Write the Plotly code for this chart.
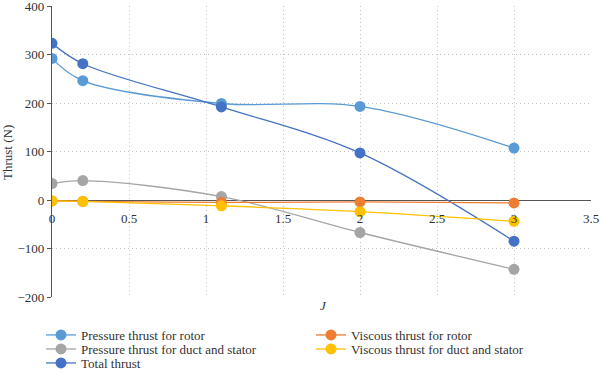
import plotly.graph_objects as go

J = [0, 0.2, 1.1, 2, 3]
pressure_rotor = [292, 246, 199, 193, 107]
pressure_duct = [34, 40, 7, -67, -143]
total_thrust = [323, 281, 192, 97, -85]
viscous_rotor = [-2, -3, -5, -4, -6]
viscous_duct = [-2, -3, -12, -24, -44]

x_ticks = [0, 0.5, 1, 1.5, 2, 2.5, 3, 3.5]
x_tick_labels = ["0", "0.5", "1", "1.5", "2", "2.5", "3", "3.5"]
y_ticks = [-200, -100, 0, 100, 200, 300, 400]
y_tick_labels = ["−200", "−100", "0", "100", "200", "300", "400"]

W, H = 600, 373
FONT = "Liberation Serif"
TXT = "#333333"
L, R, T, B = 52, 9, 6, 76

# (name, values, colour, legend id, legend text left px, legend row centre px)
series = [
    ("Pressure thrust for rotor", pressure_rotor, "#5B9BD5", "legend", 81, 335),
    ("Pressure thrust for duct and stator", pressure_duct, "#A5A5A5", "legend2", 81, 349),
    ("Total thrust", total_thrust, "#4472C4", "legend3", 81, 363),
    ("Viscous thrust for rotor", viscous_rotor, "#ED7D31", "legend4", 351, 335),
    ("Viscous thrust for duct and stator", viscous_duct, "#FFC000", "legend5", 351, 349),
]

fig = go.Figure()
legends = {}
for name, vals, col, lg, tx, ty in series:
    fig.add_trace(go.Scatter(
        x=J, y=vals, name=name, mode="lines+markers",
        line=dict(color=col, width=1.3, shape="spline", smoothing=1),
        marker=dict(color=col, size=11),
        legend=lg, showlegend=True,
    ))
    legends[lg] = dict(
        x=(tx - 40) / W, xref="container", xanchor="left",
        y=1 - ty / H, yref="container", yanchor="middle",
        orientation="v", font=dict(family=FONT, size=13, color=TXT),
        itemwidth=30, bgcolor="rgba(0,0,0,0)", visible=True,
    )

pw = W - L - R
ph = H - T - B
fig.update_layout(
    width=W, height=H, showlegend=True,
    margin=dict(l=L, r=R, t=T, b=B, autoexpand=False),
    paper_bgcolor="white", plot_bgcolor="white",
    font=dict(family=FONT, size=13, color=TXT),
    xaxis=dict(
        range=[0, 3.5], tickvals=x_ticks, ticktext=x_tick_labels,
        showgrid=True, gridcolor="#c4c4c4", griddash="1px,3px", gridwidth=1,
        zeroline=False, showline=False, automargin=False,
        anchor="free", position=1/3, ticks="", ticklabelstandoff=9,
        ticklabeloverflow="allow",
        tickfont=dict(family=FONT, size=13, color=TXT),
    ),
    yaxis=dict(
        range=[-200, 400], tickvals=y_ticks, ticktext=y_tick_labels,
        showgrid=True, gridcolor="#c4c4c4", griddash="1px,3px", gridwidth=1,
        zeroline=True, zerolinecolor="#555555", zerolinewidth=1.3,
        showline=True, linecolor="#555555", linewidth=1.3, automargin=False,
        ticks="outside", ticklen=4, tickcolor="#555555",
        ticklabeloverflow="allow",
        tickfont=dict(family=FONT, size=13, color=TXT),
    ),
    annotations=[
        dict(text="<i>J</i>", x=(323 - L) / pw, xref="paper", xanchor="center",
             y=(H - B - 306) / ph, yref="paper", yanchor="middle", showarrow=False,
             font=dict(family=FONT, size=13, color=TXT)),
        dict(text="Thrust (N)", textangle=-90, x=(7 - L) / pw, xref="paper",
             xanchor="center", y=(H - B - 153) / ph, yref="paper",
             yanchor="middle", showarrow=False,
             font=dict(family=FONT, size=13, color=TXT)),
    ],
    **legends,
)
fig.write_html("out.html", config={"displayModeBar": False},
               post_script="document.body.style.margin='0';")
